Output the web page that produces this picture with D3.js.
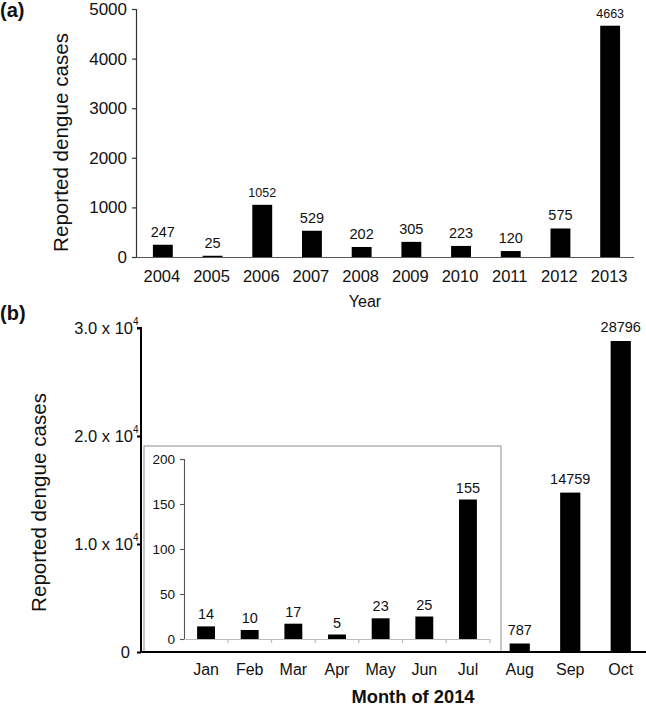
<!DOCTYPE html>
<html>
<head>
<meta charset="utf-8">
<script src="https://cdn.jsdelivr.net/npm/d3@7/dist/d3.min.js"></script>
<style>
  html, body { margin: 0; padding: 0; background: #fff; }
  svg { display: block; font-family: "Liberation Sans", Arial, Helvetica, sans-serif; }
</style>
</head>
<body>
<svg id="chart" width="646" height="709"></svg>
<script>
// ---- data ----
const years = ["2004","2005","2006","2007","2008","2009","2010","2011","2012","2013"];
const yearCases = [247, 25, 1052, 529, 202, 305, 223, 120, 575, 4663];
const yearTicks = [0, 1000, 2000, 3000, 4000, 5000];

const months = ["Jan","Feb","Mar","Apr","May","Jun","Jul","Aug","Sep","Oct"];
const monthCases = [14, 10, 17, 5, 23, 25, 155, 787, 14759, 28796];
const insetMonths = ["Jan","Feb","Mar","Apr","May","Jun","Jul"];
const monthTicks = [0, 10000, 20000, 30000];
const monthTickMantissa = ["0", "1.0 x 10", "2.0 x 10", "3.0 x 10"];
const monthTickExponent = ["", "4", "4", "4"];
const insetTicks = [0, 50, 100, 150, 200];

const svg = d3.select("#chart");

// ================= Panel (a) =================
const ax = d3.scaleBand().domain(years).range([137, 634]).paddingInner(0.6).paddingOuter(0.3);
const ay = d3.scaleLinear().domain([0, 5000]).range([257, 9]);

const gA = svg.append("g");
// y axis
const yAxisA = gA.append("g").attr("transform", "translate(136,0)")
  .call(d3.axisLeft(ay).tickValues(yearTicks).tickSize(4).tickPadding(5).tickFormat(d3.format("d")));
yAxisA.selectAll("path, line").attr("stroke", "#333").attr("stroke-width", 1.2);
yAxisA.select(".domain").attr("d", "M-4,9.5H0.5V257.5");
yAxisA.selectAll("text").attr("font-size", 17).attr("fill", "#111").attr("font-family", null);

// x axis
const xAxisA = gA.append("g").attr("transform", "translate(0,257)")
  .call(d3.axisBottom(ax).tickSize(0).tickPadding(0));
xAxisA.select(".domain").attr("stroke", "#555").attr("stroke-width", 1.2).attr("d", "M136,0.5H634");
xAxisA.selectAll("text").attr("font-size", 16.5).attr("fill", "#111").attr("font-family", null)
  .attr("dy", null).attr("y", 25);

// bars
gA.selectAll("rect.bar").data(yearCases).enter().append("rect")
  .attr("x", (d, i) => ax(years[i]) + 1)
  .attr("width", ax.bandwidth())
  .attr("y", d => ay(d))
  .attr("height", d => ay(0) - ay(d))
  .attr("fill", "#000");

// value labels
gA.selectAll("text.val").data(yearCases).enter().append("text")
  .attr("x", (d, i) => ax(years[i]) + 1 + ax.bandwidth() / 2)
  .attr("y", d => ay(d) - 8)
  .attr("text-anchor", "middle")
  .attr("font-size", d => String(d).length >= 4 ? 12.5 : 14.5)
  .attr("fill", "#111")
  .text(d => d);

// labels
gA.append("text").attr("x", 365).attr("y", 307).attr("text-anchor", "middle")
  .attr("font-size", 16).attr("fill", "#111").text("Year");
gA.append("text").attr("transform", "translate(68,142.5) rotate(-90)")
  .attr("text-anchor", "middle").attr("font-size", 20.5).attr("fill", "#111")
  .attr("textLength", 219).attr("lengthAdjust", "spacingAndGlyphs")
  .text("Reported dengue cases");
svg.append("text").attr("x", 0).attr("y", 17).attr("font-size", 20).attr("font-weight", "bold")
  .attr("fill", "#111").text("(a)");

// ================= Panel (b) =================
const bx = d3.scaleBand().domain(months).range([141, 646]).paddingInner(0.6).paddingOuter(0.3);
const by = d3.scaleLinear().domain([0, 30000]).range([652, 328]);
const ix = d3.scaleBand().domain(insetMonths).range([184, 490]).paddingInner(0.59).paddingOuter(0.3);
const iy = d3.scaleLinear().domain([0, 200]).range([639, 459]);

const gB = svg.append("g");

// inset box
gB.append("rect").attr("x", 144).attr("y", 446).attr("width", 357).attr("height", 206)
  .attr("fill", "none").attr("stroke", "#a8a8a8").attr("stroke-width", 1.3);

// main y axis
const yAxisB = gB.append("g").attr("transform", "translate(141,0)")
  .call(d3.axisLeft(by).tickValues(monthTicks).tickSize(4).tickFormat(""));
yAxisB.selectAll("path, line").attr("stroke", "#000").attr("stroke-width", 2);
yAxisB.select(".domain").attr("d", "M-4,328V328H0V652");
const ylab = gB.append("g");
ylab.selectAll("text.m").data(monthTicks).enter().append("text")
  .attr("x", (d, i) => i === 0 ? 130 : 133)
  .attr("y", d => by(d) + 6)
  .attr("text-anchor", "end").attr("font-size", 16.5).attr("fill", "#111")
  .text((d, i) => monthTickMantissa[i]);
ylab.selectAll("text.e").data(monthTicks).enter().append("text")
  .attr("x", 133)
  .attr("y", d => by(d) - 3)
  .attr("text-anchor", "start").attr("font-size", 10).attr("fill", "#111")
  .text((d, i) => monthTickExponent[i]);

// main x axis (Aug–Oct labels)
const xAxisB = gB.append("g").attr("transform", "translate(0,652)")
  .call(d3.axisBottom(bx).tickValues(months.slice(7)).tickSize(0).tickPadding(0));
xAxisB.select(".domain").attr("stroke", "#000").attr("stroke-width", 2).attr("d", "M140,0H646");
xAxisB.selectAll("text").attr("font-size", 16).attr("fill", "#111").attr("font-family", null)
  .attr("dy", null).attr("y", 23);

// main bars Aug–Oct
const mainIdx = [7, 8, 9];
gB.selectAll("rect.mbar").data(mainIdx).enter().append("rect")
  .attr("x", i => bx(months[i]))
  .attr("width", bx.bandwidth())
  .attr("y", i => by(monthCases[i]))
  .attr("height", i => by(0) - by(monthCases[i]))
  .attr("fill", "#000");
gB.selectAll("text.mval").data(mainIdx).enter().append("text")
  .attr("x", i => bx(months[i]) + bx.bandwidth() / 2)
  .attr("y", i => by(monthCases[i]) - 9)
  .attr("text-anchor", "middle").attr("font-size", 14.5).attr("fill", "#111")
  .text(i => monthCases[i]);

// inset y axis
const yAxisI = gB.append("g").attr("transform", "translate(184,0)")
  .call(d3.axisLeft(iy).tickValues(insetTicks).tickSize(4).tickPadding(5));
yAxisI.selectAll("path, line").attr("stroke", "#555").attr("stroke-width", 1.1);
yAxisI.select(".domain").attr("d", "M-4,459.5H0.5V639");
yAxisI.selectAll("text").attr("font-size", 13.5).attr("fill", "#111").attr("font-family", null);

// inset x axis
const xAxisI = gB.append("g").attr("transform", "translate(0,639)")
  .call(d3.axisBottom(ix).tickSize(0).tickPadding(0));
xAxisI.select(".domain").attr("stroke", "#bbb").attr("stroke-width", 1.2).attr("d", "M184,0.5H490");
xAxisI.selectAll("text").attr("font-size", 16).attr("fill", "#111").attr("font-family", null)
  .attr("dy", null).attr("y", 36);
// boundary ticks
const bounds = insetMonths.slice(1).map(m => ix(m) - ix.step() * ix.paddingInner() / 2).concat([490]);
xAxisI.selectAll("line.bt").data(bounds).enter().append("line")
  .attr("x1", d => d).attr("x2", d => d).attr("y1", 0).attr("y2", 4)
  .attr("stroke", "#bbb").attr("stroke-width", 1.2);

// inset bars
const insetIdx = d3.range(7);
gB.selectAll("rect.ibar").data(insetIdx).enter().append("rect")
  .attr("x", i => ix(insetMonths[i]))
  .attr("width", ix.bandwidth())
  .attr("y", i => iy(monthCases[i]))
  .attr("height", i => iy(0) - iy(monthCases[i]))
  .attr("fill", "#000");
gB.selectAll("text.ival").data(insetIdx).enter().append("text")
  .attr("x", i => ix(insetMonths[i]) + ix.bandwidth() / 2)
  .attr("y", i => iy(monthCases[i]) - 7)
  .attr("text-anchor", "middle").attr("font-size", 14.5).attr("fill", "#111")
  .text(i => monthCases[i]);

// labels
gB.append("text").attr("x", 413).attr("y", 703).attr("text-anchor", "middle")
  .attr("font-size", 18).attr("font-weight", "bold").attr("fill", "#111")
  .attr("textLength", 123).attr("lengthAdjust", "spacingAndGlyphs")
  .text("Month of 2014");
gB.append("text").attr("transform", "translate(46,502.5) rotate(-90)")
  .attr("text-anchor", "middle").attr("font-size", 20.5).attr("fill", "#111")
  .attr("textLength", 219).attr("lengthAdjust", "spacingAndGlyphs")
  .text("Reported dengue cases");
svg.append("text").attr("x", 0).attr("y", 320).attr("font-size", 20).attr("font-weight", "bold")
  .attr("fill", "#111").text("(b)");
</script>
</body>
</html>
